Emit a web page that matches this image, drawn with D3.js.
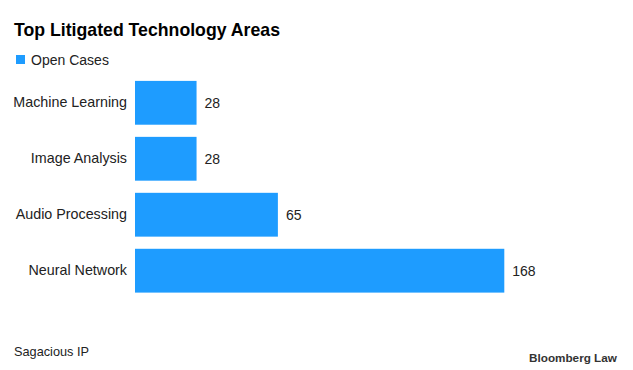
<!DOCTYPE html>
<html><head><meta charset="utf-8">
<script src="https://cdn.jsdelivr.net/npm/d3@7"></script>
<style>
html,body{margin:0;padding:0;background:#fff;}
svg{display:block;}
text{font-family:"Liberation Sans",Arial,sans-serif;}
</style></head>
<body>
<svg id="chart" width="633" height="370"></svg>
<script>
const categories = ["Machine Learning","Image Analysis","Audio Processing","Neural Network"];
const openCases = [28, 28, 65, 168];
const seriesName = "Open Cases";
const title = "Top Litigated Technology Areas";
const source = "Sagacious IP";
const brand = "Bloomberg Law";

const svg = d3.select("#chart");
const color = "#1e9cff";

function fit(sel, w){
  const n = sel.node();
  const fs = parseFloat(sel.attr("font-size"));
  const cur = n.getComputedTextLength();
  sel.attr("font-size", (fs*w/cur).toFixed(2));
}

const x = d3.scaleLinear().domain([0, 168]).range([135, 504.3]);
const y = d3.scaleBand().domain(categories).range([72.5, 301]).paddingInner(0.217).paddingOuter(0.15);

// title
const t = svg.append("text").attr("x",14).attr("y",36).attr("font-size",17)
  .attr("font-weight","bold").attr("fill","#000").text(title);
fit(t, 266);

// legend
svg.append("rect").attr("x",16).attr("y",55).attr("width",9).attr("height",9).attr("fill",color);
const lg = svg.append("text").attr("x",31).attr("y",65).attr("font-size",14).attr("fill","#222").text(seriesName);
fit(lg, 78);

// bars
svg.selectAll("rect.bar").data(categories).join("rect").attr("class","bar")
  .attr("x", x(0)).attr("y", d=>y(d)).attr("height", y.bandwidth())
  .attr("width", (d,i)=>x(openCases[i])-x(0)).attr("fill", color);

// value labels
svg.selectAll("text.val").data(categories).join("text").attr("class","val")
  .attr("x",(d,i)=>x(openCases[i])+8).attr("y",d=>y(d)+y.bandwidth()/2)
  .attr("dy","0.36em").attr("font-size",14).attr("fill","#222")
  .text((d,i)=>openCases[i]);

// category axis
const axis = d3.axisLeft(y).tickSize(0).tickPadding(8);
const g = svg.append("g").attr("transform",`translate(${x(0)},0)`).call(axis);
g.select(".domain").remove();
g.selectAll("text").attr("font-size",14.3).attr("fill","#222")
  .attr("font-family","'Liberation Sans',Arial,sans-serif");

// source & brand
const s = svg.append("text").attr("x",14).attr("y",356).attr("font-size",13).attr("fill","#222").text(source);
fit(s, 75);
const b = svg.append("text").attr("x",529).attr("y",361.5).attr("font-size",12.5)
  .attr("font-weight","bold").attr("fill","#333").text(brand);
fit(b, 88);
</script>
</body></html>
